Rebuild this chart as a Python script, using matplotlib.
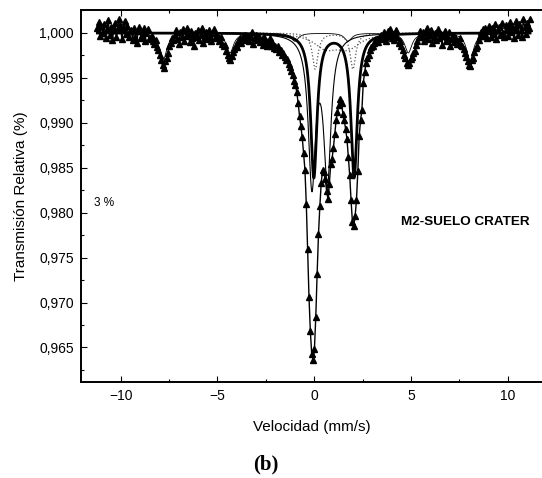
import numpy as np
import matplotlib
matplotlib.use('Agg')
import matplotlib.pyplot as plt
from matplotlib.ticker import MultipleLocator, FuncFormatter

wing_left = [5, 12, -3, 8, 0, 10, -6, 4, 14, -2, 7, -8, 3, 11, -4, 6, 16, 9, -7, 5,
             13, -1, 8, -5, 2, 3, -8, 6, -4, -11, 2, 7, -6, -2, 5, -9, 0, 4, -7]
sext_dip1 = [-6, -3, -9, -12, -8, -16, -19, -25, -30, -36, -39, -31, -28, -22, -14, -11, -6, -8]
flat_1 = [-2, 3, -7, -12, 1, -5, 4, -9, -3, 5, -1, -10, 2, -6, -14, 0, -4, 3, -8, -2,
          5, -11, -5, 1, -7, 3, -3, -9, 0, 4, -6, -2]
sext_dip2 = [-5, -9, -4, -12, -15, -13, -20, -24, -28, -30, -26, -21, -18, -13, -16, -9,
             -6, -11, -4, -8, -2, -7]
shoulder = [-3, -9, -5, 1, -12, -6, -2, -8, -4, -10, -7, -13, -5, -9, -15, -11, -6, -14, -10, -17]
centre = [-14, -18, -15, -21, -19, -24, -22, -27, -30, -29, -35, -38, -42, -47, -53, -58,
          -66, -78, -92, -104, -116, -134, -152, -190, -240, -294, -332, -357, -364, -352,
          -316, -268, -224, -193, -167, -153, -155, -163, -176, -185, -168, -146, -140, -128,
          -112, -97, -88, -80, -73, -78, -90, -97, -107, -118, -138, -158, -186, -210, -215,
          -204, -186, -154, -115, -97, -86, -56, -44, -34, -28, -24, -19, -16, -14, -11, -9,
          -8, -10, -5]
sext_dip3 = [-2, -7, 1, -4, -9, 2, -3, 4, -6, -1, -8, 3, -5, -11, -9, -15, -19, -24, -28,
             -33, -36, -34, -29, -27, -22, -20, -13, -9, -4, 2]
flat_2 = [-5, 1, -9, -3, 5, -7, -2, 3, -11, -4, 0, -8, 4, -6, -1, -13, -3, 2, -9, -5, 1,
          -14, -7, -2, -10, -4, -12]
sext_dip4 = [-9, -6, -13, -15, -18, -22, -27, -31, -36, -37, -30, -28, -21, -17, -14, -8, -3, 1]
wing_right = [4, -3, 6, -6, 2, 8, -4, 5, -1, 10, -7, 3, 7, -2, 11, 0, -5, 9, 4, -3, 12, 1,
              8, -6, 6, 13, -2, 10, 3, -4, 15, 7, -1, 11, 5, 16]

trans_e4 = (wing_left + sext_dip1 + flat_1 + sext_dip2 + shoulder + centre
            + sext_dip3 + flat_2 + sext_dip4 + wing_right)
velocity = np.linspace(-11.2, 11.15, len(trans_e4))
trans = 1 + np.array(trans_e4) * 1e-4

# fitted sub-spectra: line centres (mm/s), depths, FWHM (mm/s)
fe2_centres = [-0.02, 2.06]
fe2_depths = [0.0160, 0.0160]
fe2_width = 0.40
fe3_centres = [-0.12, 0.68]
fe3_depths = [0.0165, 0.0160]
fe3_width = 0.45
dot1_centres = [0.05, 2.00]
dot1_depths = [0.0040, 0.0040]
dot1_width = 0.35
dot2_centres = [0.60, 1.75]
dot2_depths = [0.0015, 0.0015]
dot2_width = 1.5
sext_centres = [-7.80, -4.35, -1.00, 1.75, 4.86, 8.05]
sext_depths = [0.0030, 0.0022, 0.0009, 0.0009, 0.0022, 0.0030]
sext_width = 0.45


def lorentz(v, centres, depths, width):
    out = np.zeros_like(v)
    for c, d in zip(centres, depths):
        out += d / (1 + ((v - c) / (width / 2)) ** 2)
    return out


vf = np.linspace(-11.2, 11.15, 3000)
sans = ['Liberation Sans', 'DejaVu Sans']

fig = plt.figure(figsize=(5.42, 4.78), dpi=100)
ax = fig.add_axes([0.1494, 0.2008, 0.85, 0.7782])

ax.plot(vf, 1 - lorentz(vf, sext_centres, sext_depths, sext_width), color='black', lw=0.6)
ax.plot(vf, 1 - lorentz(vf, dot2_centres, dot2_depths, dot2_width), color='#555555', lw=0.9, ls=':')
ax.plot(vf, 1 - lorentz(vf, dot1_centres, dot1_depths, dot1_width), color='#555555', lw=0.9, ls=':')
ax.plot(vf, 1 - lorentz(vf, fe3_centres, fe3_depths, fe3_width), color='black', lw=0.8)
ax.plot(vf, 1 - lorentz(vf, fe2_centres, fe2_depths, fe2_width), color='black', lw=2.0)
ax.plot(velocity, trans, color='black', lw=1.0, marker='^', ms=4.6, zorder=5)

ax.set_xlim(-12.05, 11.75)
ax.set_ylim(0.96115, 1.00255)
ax.xaxis.set_major_locator(MultipleLocator(5))
ax.xaxis.set_minor_locator(MultipleLocator(2.5))
ax.yaxis.set_major_locator(MultipleLocator(0.005))
ax.yaxis.set_minor_locator(MultipleLocator(0.0025))
ax.yaxis.set_major_formatter(FuncFormatter(lambda y, p: f'{y:.3f}'.replace('.', ',')))
ax.tick_params(which='both', direction='in', top=True, right=False, labelsize=10,
               width=0.8, colors='black')
ax.tick_params(which='major', length=4, pad=5)
ax.tick_params(which='minor', length=2.5)
for side in ['left', 'bottom', 'top']:
    ax.spines[side].set_linewidth(1.4)
ax.spines['right'].set_visible(False)

for lab in ax.get_xticklabels() + ax.get_yticklabels():
    lab.set_family(sans)
ax.set_xlabel('Velocidad (mm/s)', fontsize=11, family=sans, labelpad=12)
ax.set_ylabel('Transmisión Relativa (%)', fontsize=11, family=sans, labelpad=8)

ax.text(-11.4, 0.9807, '3 %', fontsize=8.5, family=sans)
ax.text(7.8, 0.9790, 'M2-SUELO CRATER', fontsize=9.7, fontweight='bold', ha='center', va='center',
        family=['Liberation Sans Narrow', 'Liberation Sans', 'DejaVu Sans'])
fig.text(0.49, 0.029, '(b)', fontsize=15, fontweight='bold', ha='center', va='center',
         family=['Liberation Serif', 'DejaVu Serif'])

fig.savefig('out.png', dpi=100)
